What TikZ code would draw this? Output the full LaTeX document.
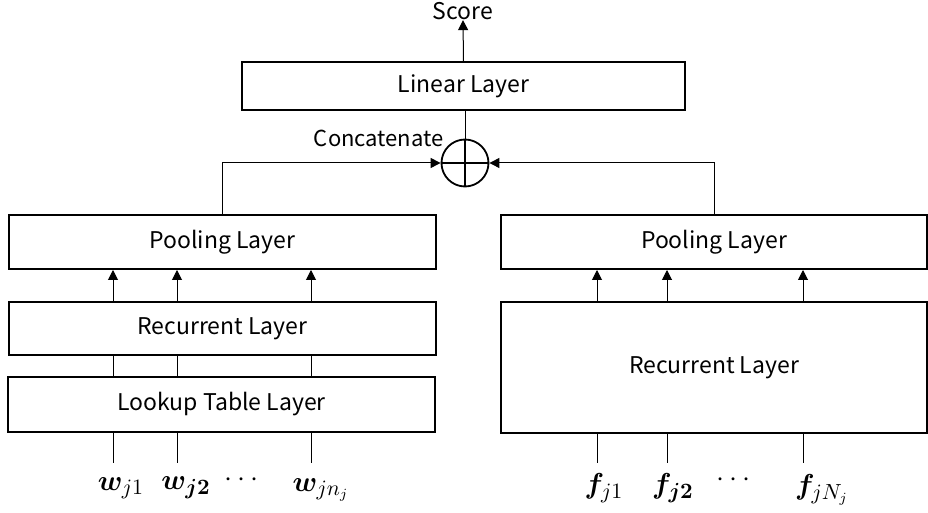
\documentclass[tikz,border=0pt]{standalone}
\usepackage[no-math]{fontspec}
\setmainfont{Noto Sans CJK JP}
\usepackage{amsmath}
\usepackage{bm}
\usetikzlibrary{arrows.meta}

\tikzset{
	layerbox/.style={draw, line width=1pt, inner sep=0pt, font=\fontsize{11.5}{13}\selectfont},
	conn/.style={line width=0.5pt},
	arr/.style={conn, -{Triangle[length=5pt,width=5pt]}},
	inlabel/.style={font=\fontsize{15}{17}\selectfont, inner sep=0pt}
}

\begin{document}
\begin{tikzpicture}[x=0.5pt,y=-0.5pt]
	\useasboundingbox (0,0) rectangle (928,513);
	% top part
	\node[layerbox, minimum width=221.5pt, minimum height=24pt] (linear) at (463.5,86) {Linear Layer};
	\node[font=\fontsize{11.5}{13}\selectfont, inner sep=0pt] (score) at (463,11) {Score};
	\node[draw, circle, line width=0.9pt, minimum size=23.5pt, inner sep=0pt] (concat) at (465,163) {};
	\draw[line width=0.9pt] (concat.north) -- (concat.south) (concat.west) -- (concat.east);
	\node[font=\fontsize{11}{13}\selectfont, inner sep=0pt, anchor=east] (concatlabel) at (444,138) {Concatenate};
	\draw[arr] (linear.north) -- (score.south);
	\draw[conn] (concat.north) -- (concat.north |- linear.south);
	% left branch
	\node[layerbox, minimum width=213.5pt, minimum height=27pt] (poolL) at (222.5,242) {Pooling Layer};
	\node[layerbox, minimum width=213.5pt, minimum height=26.5pt] (recL) at (222.5,328.5) {Recurrent Layer};
	\node[layerbox, minimum width=213.5pt, minimum height=27.5pt] (lookup) at (221.5,404.5) {Lookup Table Layer};
	% right branch
	\node[layerbox, minimum width=213pt, minimum height=27pt] (poolR) at (714,242) {Pooling Layer};
	\node[layerbox, minimum width=213pt, minimum height=65.5pt] (recR) at (714,367.5) {Recurrent Layer};
	% concatenation
	\draw[arr] (poolL.north) |- (concat.west);
	\draw[arr] (poolR.north) |- (concat.east);
	% inputs, left
	\foreach \x/\n in {113/1, 177/2, 311/3} {
		\coordinate (w\n) at (\x,463);
		\draw[conn] (w\n) -- (w\n |- lookup.south);
		\draw[conn] (w\n |- lookup.north) -- (w\n |- recL.south);
		\draw[arr] (w\n |- recL.north) -- (w\n |- poolL.south);
	}
	\node[inlabel] (lw1) at (121,488) {$\bm{w}_{j1}$};
	\node[inlabel] (lw2) at (186,488) {$\bm{w}_{\bm{j2}}$};
	\node[inlabel] (ldotsL) at (244,480) {$\cdots$};
	\node[inlabel] (lw3) at (321,490) {$\bm{w}_{jn_j}$};
	% inputs, right
	\foreach \x/\n in {597/1, 667/2, 803/3} {
		\coordinate (f\n) at (\x,463);
		\draw[conn] (f\n) -- (f\n |- recR.south);
		\draw[arr] (f\n |- recR.north) -- (f\n |- poolR.south);
	}
	\node[inlabel] (lf1) at (604,488) {$\bm{f}_{j1}$};
	\node[inlabel] (lf2) at (673,488) {$\bm{f}_{\bm{j2}}$};
	\node[inlabel] (ldotsR) at (736,480) {$\cdots$};
	\node[inlabel] (lf3) at (822,490) {$\bm{f}_{jN_j}$};
\end{tikzpicture}
\end{document}
